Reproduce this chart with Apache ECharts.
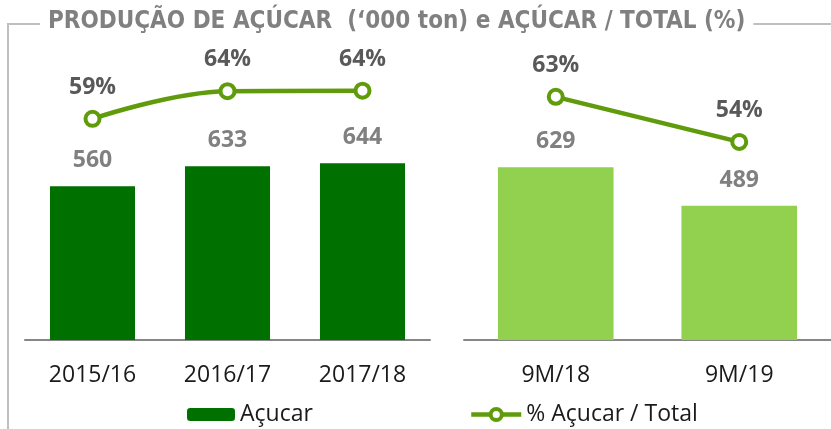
<!DOCTYPE html>
<html>
<head>
<meta charset="utf-8">
<script src="https://cdn.jsdelivr.net/npm/echarts@6/dist/echarts.min.js"></script>
<style>
  html, body { margin: 0; padding: 0; background: #fff; }
  #chart { width: 831px; height: 429px; }
</style>
</head>
<body>
<div id="chart"></div>
<script>
const anosCats = ['2015/16', '2016/17', '2017/18']
const anosAcucar = [560, 633, 644]
const anosPct = [58.6, 64.0, 64.1]
const mesesCats = ['9M/18', '9M/19']
const mesesAcucar = [629, 489]
const mesesPct = [62.9, 54.1]

const titulo = 'PRODUÇÃO DE AÇÚCAR  (‘000 ton) e AÇÚCAR / TOTAL (%)'
const fonte = '"Open Sans", "DejaVu Sans", sans-serif'
const verdeEscuro = '#007000'
const verdeClaro = '#92d050'
const verdeLinha = '#5f9b0a'

let myChart = echarts.init(document.getElementById('chart'), null, { renderer: 'canvas' })

function barLabel() {
  return { show: true, position: 'top', distance: 14, color: '#808080', fontSize: 23, fontWeight: 'bold', fontFamily: fonte }
}
function pctLabel() {
  return {
    show: true, position: 'top', distance: 11, color: '#595959', fontSize: 23, fontWeight: 'bold', fontFamily: fonte,
    formatter: p => Math.round(p.value) + '%'
  }
}
function catAxis(idx, data) {
  return {
    type: 'category', gridIndex: idx, data: data,
    axisLine: { lineStyle: { color: '#868686', width: 2 } },
    axisTick: { show: false },
    axisLabel: { color: '#1a1a1a', fontSize: 23, fontFamily: fonte, margin: 24 }
  }
}
function valAxis(idx, min, max) {
  return { type: 'value', gridIndex: idx, min: min, max: max, show: false, splitLine: { show: false } }
}
const lineStyle = { color: verdeLinha, width: 4.5 }
const itemStyle = { color: '#fff', borderColor: verdeLinha, borderWidth: 4 }

myChart.setOption({
  animation: false,
  title: {
    text: titulo, left: 40, top: 10,
    backgroundColor: '#fff', padding: [0, 8],
    textStyle: { color: '#808080', fontSize: 24, fontWeight: 'bold', fontFamily: '"DejaVu Sans Condensed", sans-serif' }
  },
  graphic: [
    { type: 'polyline', z: 0, shape: { points: [[40, 24], [8, 24], [8, 429]] }, style: { stroke: '#bfbfbf', lineWidth: 2, fill: null } },
    { type: 'line', z: 0, shape: { x1: 750, y1: 24, x2: 831, y2: 24 }, style: { stroke: '#bfbfbf', lineWidth: 2 } }
  ],
  legend: [
    {
      data: ['Açucar'], left: 182, top: 398, itemWidth: 48, itemHeight: 13, itemGap: 6,
      textStyle: { color: '#1a1a1a', fontSize: 23, fontFamily: fonte }
    },
    {
      data: [{ name: '% Açucar / Total', lineStyle: { width: 4.5 }, itemStyle: { borderWidth: 4 } }],
      left: 464, top: 398, itemWidth: 50, itemHeight: 14,
      textStyle: { color: '#1a1a1a', fontSize: 23, fontFamily: fonte }
    }
  ],
  grid: [
    { left: 25, right: 401, top: 40, bottom: 89 },
    { left: 464, right: 0, top: 40, bottom: 89 }
  ],
  xAxis: [catAxis(0, anosCats), catAxis(1, mesesCats)],
  yAxis: [valAxis(0, 0, 1093), valAxis(0, 15.4, 74), valAxis(1, 0, 1093), valAxis(1, 15.4, 74)],
  series: [
    {
      name: 'Açucar', type: 'bar', xAxisIndex: 0, yAxisIndex: 0, data: anosAcucar,
      barWidth: '63%', itemStyle: { color: verdeEscuro }, label: barLabel()
    },
    {
      name: '% Açucar / Total', type: 'line', xAxisIndex: 0, yAxisIndex: 1, data: anosPct,
      smooth: 0.4, symbol: 'circle', symbolSize: 14, lineStyle: lineStyle, itemStyle: itemStyle, label: pctLabel()
    },
    {
      name: 'Açucar', type: 'bar', xAxisIndex: 1, yAxisIndex: 2, data: mesesAcucar,
      barWidth: '63%', itemStyle: { color: verdeClaro }, label: barLabel()
    },
    {
      name: '% Açucar / Total', type: 'line', xAxisIndex: 1, yAxisIndex: 3, data: mesesPct,
      symbol: 'circle', symbolSize: 14, lineStyle: lineStyle, itemStyle: itemStyle, label: pctLabel()
    }
  ]
})
</script>
</body>
</html>
